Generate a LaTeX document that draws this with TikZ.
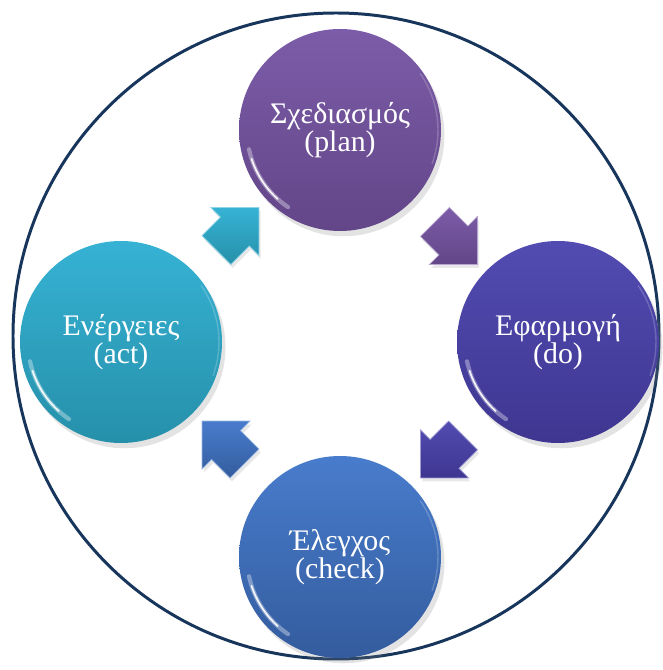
\documentclass[tikz,border=0pt]{standalone}
\usepackage{fontspec}
\setmainfont{Liberation Serif}
\usetikzlibrary{calc,shapes.arrows,shadows}
\usepackage{xcolor}
\definecolor{ringnavy}{RGB}{24,54,92}
\definecolor{planhi}{RGB}{124,92,168}
\definecolor{planlo}{RGB}{98,70,136}
\definecolor{dohi}{RGB}{82,76,178}
\definecolor{dolo}{RGB}{62,54,144}
\definecolor{checkhi}{RGB}{72,124,204}
\definecolor{checklo}{RGB}{52,92,158}
\definecolor{acthi}{RGB}{54,178,212}
\definecolor{actlo}{RGB}{38,144,170}

\begin{document}
\begin{tikzpicture}[
  stage/.style={circle, minimum size=4.04cm, inner sep=0pt, align=center, text=white,
    font=\rmfamily\fontsize{17}{16}\selectfont,
    drop shadow={shadow xshift=2pt, shadow yshift=-3pt, opacity=0.22}},
  fatarrow/.style={single arrow, minimum height=1.2cm, minimum width=0pt,
    inner xsep=0pt, inner ysep=0.4cm,
    single arrow head extend=0.27cm, single arrow tip angle=90,
    drop shadow={shadow xshift=1pt, shadow yshift=-2pt, opacity=0.18}},
  gloss/.style={white, line cap=round}]
\useasboundingbox (-6.8,-6.56) rectangle (6.44,6.84);
\draw[ringnavy, line width=1.7pt] (-0.08,0.12) circle (6.46);

% the four stages of the cycle
\node[stage, top color=planhi, bottom color=planlo] (plan) at (0,4.24) {Σχεδιασμός\\(plan)};
\node[stage, top color=dohi, bottom color=dolo] (do) at (4.36,0) {Εφαρμογή\\(do)};
\node[stage, top color=checkhi, bottom color=checklo] (check) at (0,-4.30) {Έλεγχος\\(check)};
\node[stage, top color=acthi, bottom color=actlo] (act) at (-4.38,0) {Ενέργειες\\(act)};

% glossy rims
\foreach \n in {plan,do,check,act}{
  \draw[gloss, line width=2.4pt, opacity=0.35] (\n.center) ++(192:1.86) arc (192:236:1.86);
  \draw[gloss, line width=1pt, opacity=0.9] (\n.center) ++(198:1.86) arc (198:228:1.86);
  \draw[gloss, line width=0.8pt, opacity=0.2] (\n.center) ++(-20:1.96) arc (-20:35:1.96);
}

% block arrows half way between the stages
\node[fatarrow, top color=planhi, bottom color=planlo, draw=planhi!55!white, line width=0.4pt, rotate=-45] (plan-do) at ($(plan)!0.5!(do)$) {};
\node[fatarrow, top color=dohi, bottom color=dolo, draw=dohi!55!white, line width=0.4pt, rotate=-135] (do-check) at ($(do)!0.5!(check)$) {};
\node[fatarrow, top color=checkhi, bottom color=checklo, draw=checkhi!55!white, line width=0.4pt, rotate=135] (check-act) at ($(check)!0.5!(act)$) {};
\node[fatarrow, top color=acthi, bottom color=actlo, draw=acthi!55!white, line width=0.4pt, rotate=45] (act-plan) at ($(act)!0.5!(plan)$) {};
\end{tikzpicture}
\end{document}
